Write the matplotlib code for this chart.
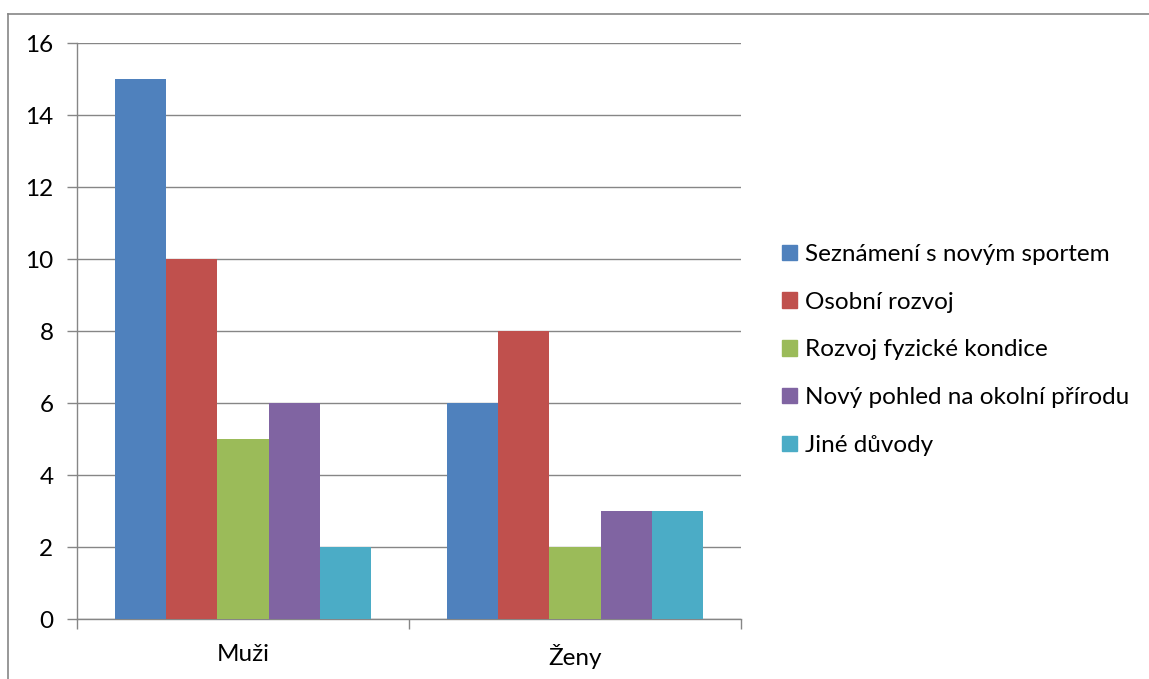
import matplotlib.pyplot as plt
import numpy as np
from matplotlib.lines import Line2D
from matplotlib.patches import Patch

plt.rcParams['font.family'] = ['Lato', 'DejaVu Sans']
plt.rcParams['font.size'] = 17.5

groups = ['Muži', 'Ženy']
series = ['Seznámení s novým sportem', 'Osobní rozvoj', 'Rozvoj fyzické kondice',
          'Nový pohled na okolní přírodu', 'Jiné důvody']
values = [
    [15, 6],
    [10, 8],
    [5, 2],
    [6, 3],
    [2, 3],
]
colors = ['#4F81BD', '#C0504D', '#9BBB59', '#8064A2', '#4BACC6']

W, H = 1149, 679
fig = plt.figure(figsize=(W / 100, H / 100), dpi=100)
ax = fig.add_axes([77 / W, 60 / H, (741 - 77) / W, (619 - 43) / H])

x = np.arange(len(groups))
bw = 1 / 6.5
for i, (name, vals) in enumerate(zip(series, values)):
    ax.bar(x + (i - 2) * bw, vals, bw, color=colors[i], label=name, zorder=3)

ax.set_xlim(-0.5, 1.5)
ax.set_ylim(0, 16)
ax.set_yticks(range(0, 17, 2))
ax.yaxis.grid(True, color='#868686', lw=1, zorder=0)

# category axis: ticks sit between the groups
ax.set_xticks([-0.5, 0.5, 1.5])
ax.set_xticklabels([])
ax.set_xticks(x, minor=True)
ax.set_xticklabels(groups, minor=True)
ax.tick_params(axis='x', which='minor', length=0, pad=18)
ax.tick_params(axis='x', which='major', length=7, color='#868686', width=1)
ax.tick_params(axis='y', length=7, color='#868686', width=1, pad=10)

for s in ['top', 'right']:
    ax.spines[s].set_visible(False)
for s in ['left', 'bottom']:
    ax.spines[s].set_color('#868686')
    ax.spines[s].set_linewidth(1)

handles = [Patch(color=c) for c in colors]
fig.legend(handles, series, loc='upper left', bbox_to_anchor=(782 / W, 1 - 244 / H),
           frameon=False, handlelength=0.6, handleheight=0.6, handletextpad=0.35,
           labelspacing=1.1, borderpad=0, borderaxespad=0)

# outer chart border
fig.add_artist(Line2D([8 / W, 8 / W], [0, 1 - 14 / H], color='#868686', lw=1.2))
fig.add_artist(Line2D([8 / W, 1], [1 - 14 / H, 1 - 14 / H], color='#868686', lw=1.2))

fig.savefig('out.png', dpi=100)
